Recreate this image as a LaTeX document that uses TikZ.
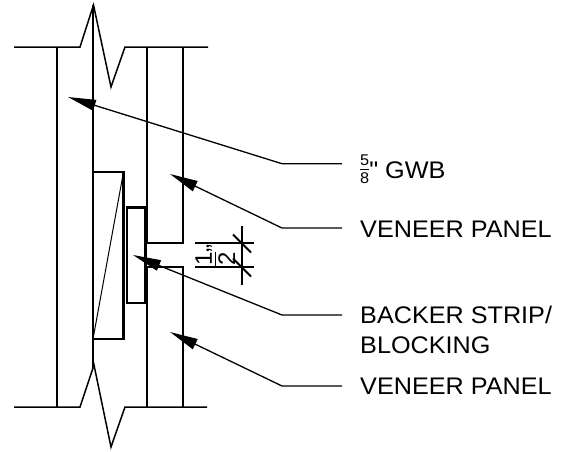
\documentclass[tikz,border=0pt]{standalone}
\usepackage{fontspec}
\setmainfont[Ligatures=ResetAll]{Liberation Sans}
\newfontfamily\widefont[Ligatures=ResetAll, FakeStretch=1.05]{Liberation Sans}
\usetikzlibrary{arrows.meta}

\newcommand{\bigfont}{\fontsize{24}{30}\selectfont}
\newcommand{\smallfont}{\fontsize{15.5}{17}\selectfont}
\newcommand{\stackfrac}[4]{\raisebox{#3}{\vbox{\offinterlineskip\halign{\hfil##\hfil\cr #1\cr\noalign{\kern#4\hrule height 1pt\kern#4}#2\cr}}}}

\tikzset{
  wall/.style={line width=2.2pt},
  breakline/.style={line width=1.5pt},
  leader/.style={line width=1.3pt, {Triangle[length=28pt,width=11pt]}-},
  dimline/.style={line width=1.3pt},
  label/.style={anchor=base west, inner xsep=18pt, inner ysep=0pt, font=\widefont\bigfont, align=left},
}

\begin{document}
\begin{tikzpicture}[x=1pt, y=-1pt]
    \useasboundingbox (0,0) rectangle (567,451);

    % Bruchlinien
    \draw[breakline] (14,47) to (80,47) to (93.5,5) to (111,87) to (125,47) to (208,47);
    \draw[breakline] (14,407) to (80,407) to (94,365) to (111,447) to (125,407) to (207,407);

    % Platten
    \draw[wall] (57,47) to (57,407);
    \draw[wall] (93,5) to (93,368);
    \draw[wall] (147,47) to (147,243) to (183,243) to (183,47);
    \draw[wall] (147,407) to (147,267) to (183,267) to (183,407);

    % Blocking und Streifen
    \draw[wall] (93,172) rectangle (123.5,339);
    \draw[line width=1pt] (123.5,172) to (93,339);
    \draw[wall] (127,207.5) rectangle (145.5,303);

    % Bemassung
    \draw[dimline] (195,243) to (254,243);
    \draw[dimline] (195,267) to (254,267);
    \draw[dimline] (242,226) to (242,285);
    \draw[dimline, line width=1.8pt] (233,234.5) to (251,252.5);
    \draw[dimline, line width=1.8pt] (233,258.5) to (251,276.5);
    \node (D1) [rotate=90, anchor=base, inner sep=0pt, font=\bigfont] at (223,255)
      {\stackfrac{1}{2}{-12pt}{2.7pt}"};

    % Beschriftung
    \node (G1) [label] at (342,178)
      {{\smallfont\stackfrac{5}{8}{-5.5pt}{3pt}}" GWB};
    \node (V1) [label] at (342,237) {VENEER PANEL};
    \node (B1) [label, anchor=north west] at (342,306) {BACKER STRIP/\\BLOCKING};
    \node (V2) [label] at (342,394) {VENEER PANEL};

    % Pfeile
    \coordinate (tipG) at (68,97);
    \coordinate (kneeG) at (282,163.7);
    \coordinate (tipV1) at (170,174);
    \coordinate (kneeV1) at (282,228);
    \coordinate (tipB) at (133,255);
    \coordinate (kneeB) at (282,315);
    \coordinate (tipV2) at (170,332);
    \coordinate (kneeV2) at (282,386);

    \draw[leader] (tipG) to (kneeG) to (kneeG -| G1.west);
    \draw[leader] (tipV1) to (kneeV1) to (kneeV1 -| V1.west);
    \draw[leader] (tipB) to (kneeB) to (kneeB -| B1.west);
    \draw[leader] (tipV2) to (kneeV2) to (kneeV2 -| V2.west);
\end{tikzpicture}
\end{document}
